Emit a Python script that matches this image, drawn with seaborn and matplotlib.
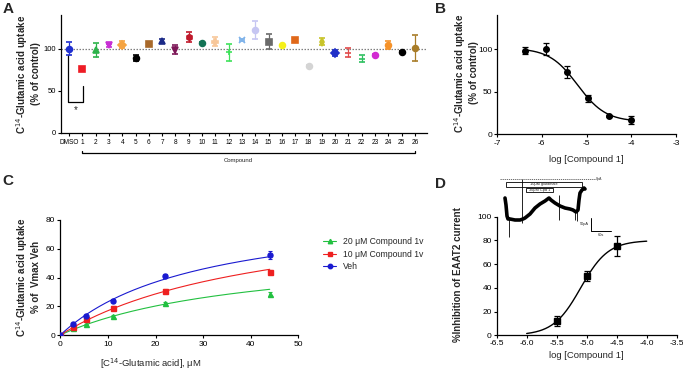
import numpy as np
import pandas as pd
import matplotlib
matplotlib.use("Agg")
import matplotlib.pyplot as plt
import seaborn as sns
from matplotlib.patches import Rectangle
from matplotlib.lines import Line2D

# ---------------- Panel A data ----------------
compounds = ["DMSO"] + [str(i) for i in range(1, 27)]
uptake_mean = [100, 75.5, 98.5, 104, 105, 89, 106, 109.5, 99, 113.5, 107, 108.5, 96,
               110, 122, 108.5, 104, 110, 80, 108.5, 95, 95.5, 88, 93, 104.5, 96, 101]
uptake_err = [8, 2.5, 8.4, 2, 4, 3, 1.5, 2.5, 5.5, 6, 1, 5, 10,
              1, 10.5, 9, 1, 1, 1, 4, 4, 5, 4.2, 1, 5, 1, 15]
a_colors = ["#1f2fd0", "#ee1c25", "#2db34a", "#c72fd4", "#f5a442", "#000000", "#a8692a",
            "#1b2a88", "#7d1757", "#c0192b", "#137355", "#f7c79a", "#3ee25a", "#7fb3ea",
            "#c6c6f2", "#6a6a6a", "#f5f01a", "#e0681a", "#d4d4d4", "#c8c42a", "#2030c8",
            "#e04a4a", "#2ec060", "#d22ad2", "#f5922a", "#000000", "#a87c28"]
a_markers = ["o", "s", "^", "v", "D", "o", "s", "^", "v", "h", "o", "P", "+", "x",
             "o", "s", "o", "s", "o", "d", "D", "_", "_", "o", "o", "o", "o"]

# ---------------- Panel B data ----------------
b_logc = [-6.38, -5.9, -5.43, -4.96, -4.49, -4.0]
b_mean = [98, 100, 73, 42, 21, 16.5]
b_err = [4, 7, 7, 4, 1.5, 5]
b_fit = dict(top=101, bottom=14.5, logic50=-5.2, hill=1.38)

# ---------------- Panel C data ----------------
c_conc = [0, 2.75, 5.5, 11, 22, 44]
c_veh = [0, 7.4, 13.4, 23.9, 41, 55.6]
c_veh_err = [0.5, 0.8, 0.8, 0.8, 1.5, 3]
c_10 = [0, 5.8, 10.9, 19, 30.8, 44]
c_10_err = [0.5, 0.8, 0.8, 1, 1.5, 1.5]
c_20 = [0, 4.6, 7.4, 13.2, 22.5, 28.3]
c_20_err = [0.5, 0.5, 0.6, 0.8, 0.8, 1.5]
c_fit_vmax = {"Veh": 90.8, "10": 91.4, "20": 61.1}
c_fit_km = {"Veh": 29.3, "10": 44.0, "20": 40.6}
c_labels = ["20 \u03bcM Compound 1v", "10 \u03bcM Compound 1v", "Veh"]

# ---------------- Panel D data ----------------
d_logc = [-5.5, -5.0, -4.5]
d_mean = [12, 50, 75]
d_err = [4, 4, 8.5]
d_fit = dict(top=80, bottom=0, logec50=-5.1, hill=1.9)

# inset current trace (time s, current pA)
trace_t = [0, 3, 6, 9, 15, 30, 45, 54, 60, 75, 90, 105, 120, 132, 138, 150, 165,
           180, 195, 204, 213, 219, 222, 225, 231, 237, 240]
trace_i = [-76, -104, -148, -160, -160, -164, -164, -160, -156, -140, -116, -100, -88,
           -76, -84, -96, -108, -116, -120, -124, -132, -124, -84, -56, -44, -36, -40]
spike_t = [12, 51, 162, 210, 216]
spike_top = [-160, 0, -64, -124, -128]
spike_bot = [-232, -176, -164, -164, -168]

# ---------------- style ----------------
sns.set_theme(style="ticks")
plt.rcParams["font.family"] = ["Liberation Sans", "DejaVu Sans"]
plt.rcParams["axes.unicode_minus"] = False
plt.rcParams["axes.linewidth"] = 0.9
plt.rcParams["xtick.major.width"] = 0.8
plt.rcParams["ytick.major.width"] = 0.8
plt.rcParams["xtick.major.size"] = 2.5
plt.rcParams["ytick.major.size"] = 2.5
plt.rcParams["xtick.major.pad"] = 1.5
plt.rcParams["ytick.major.pad"] = 1.0

W, H = 683, 371
fig = plt.figure(figsize=(W / 100, H / 100), dpi=100)


def box(x0, x1, ytop, ybot):
    return [x0 / W, 1 - ybot / H, (x1 - x0) / W, (ybot - ytop) / H]


def style_ax(ax):
    sns.despine(ax=ax)
    ax.spines["left"].set_color("black")
    ax.spines["bottom"].set_color("black")
    ax.tick_params(colors="black", labelcolor="black")


# ======== Panel A ========
axA = fig.add_axes(box(61, 427, 15, 133))
xs = np.arange(len(compounds))
axA.axhline(100, color="#808080", ls=(0, (1.2, 1.2)), lw=0.9, zorder=1)
for i in range(len(compounds)):
    axA.errorbar(xs[i], uptake_mean[i], yerr=uptake_err[i], fmt=a_markers[i],
                 color=a_colors[i], ms=4.2 if a_markers[i] not in ("+", "x", "_") else 5,
                 mew=1.2, elinewidth=0.9, capsize=2, capthick=0.9, zorder=3)
axA.set_xlim(-0.6, 26.9)
axA.set_ylim(0, 140)
axA.set_yticks([0, 50, 100])
axA.set_xticks(xs)
axA.set_xticklabels(compounds, fontsize=4.7)
axA.tick_params(axis="y", labelsize=5.5)
style_ax(axA)
# bracket under compounds
axA.plot([1, 1, 26, 26], [-21.5, -23.8, -23.8, -21.5], color="black", lw=0.9, clip_on=False)
axA.text(12.75, -33, "Compound", fontsize=4.3, ha="center", va="center")
# significance bracket
axA.plot([-0.08, -0.08, 1.05, 1.05], [92.9, 37, 37, 56], color="black", lw=0.9)
axA.text(0.5, 27, "*", fontsize=7, ha="center", va="center")

fig.text(27.5 / W, 1 - 74 / H, "C$^{14}$-Glutamic acid uptake\n(% of control)",
         rotation=90, ha="center", va="center", fontsize=7, fontweight="bold",
         multialignment="center", linespacing=1.1)

# ======== Panel B ========
axB = fig.add_axes(box(497, 676, 15, 134))
xfit = np.linspace(-6.4, -4.0, 200)
yfit = b_fit["bottom"] + (b_fit["top"] - b_fit["bottom"]) / (
    1 + 10 ** ((xfit - b_fit["logic50"]) * b_fit["hill"]))
sns.lineplot(x=xfit, y=yfit, ax=axB, color="black", lw=1.0)
axB.errorbar(b_logc, b_mean, yerr=b_err, fmt="o", color="black", ms=4,
             elinewidth=0.9, capsize=2.2, capthick=0.9)
axB.set_xlim(-7, -3)
axB.set_ylim(0, 140)
axB.set_xticks([-7, -6, -5, -4, -3])
axB.set_yticks([0, 50, 100])
axB.tick_params(labelsize=6)
style_ax(axB)
fig.text(466 / W, 1 - 73 / H, "C$^{14}$-Glutamic acid uptake\n(% of control)",
         rotation=90, ha="center", va="center", fontsize=7, fontweight="bold",
         multialignment="center", linespacing=1.1)
fig.text(586 / W, 1 - 159 / H, "log [Compound 1]", ha="center", va="center", fontsize=6.8)

# ======== Panel C ========
axC = fig.add_axes(box(60.3, 298.3, 220, 335))
xc = np.linspace(0, 44, 200)
series = [("20", c_20, c_20_err, "#22c040", "^"),
          ("10", c_10, c_10_err, "#ee2020", "s"),
          ("Veh", c_veh, c_veh_err, "#1a1ad0", "o")]
handles = []
for (key, vals, errs, col, mk), lab in zip(series, c_labels):
    vm, km = c_fit_vmax[key], c_fit_km[key]
    sns.lineplot(x=xc, y=vm * xc / (km + xc), ax=axC, color=col, lw=0.8)
    axC.errorbar(c_conc, vals, yerr=errs, fmt=mk, color=col, ms=3.6,
                 elinewidth=0.8, capsize=1.5, capthick=0.8, zorder=3)
    handles.append(Line2D([0], [0], color=col, marker=mk, ms=3.2, lw=0.8))
axC.set_xlim(0, 50)
axC.set_ylim(0, 80)
axC.set_xticks([0, 10, 20, 30, 40, 50])
axC.set_yticks([0, 20, 40, 60, 80])
axC.tick_params(labelsize=6)
style_ax(axC)
fig.text(27.5 / W, 1 - 277 / H, "C$^{14}$-Glutamic acid uptake\n% of  Vmax Veh",
         rotation=90, ha="center", va="center", fontsize=7, fontweight="bold",
         multialignment="center", linespacing=1.1)
fig.text(150.5 / W, 1 - 364 / H, "[C$^{14}$-Glutamic acid], \u03bcM", ha="center",
         va="center", fontsize=6.8)
fig.legend(handles, c_labels, loc="upper left", bbox_to_anchor=(319 / W, 1 - 233 / H),
           frameon=False, fontsize=6.2, borderpad=0, handlelength=1.5,
           handletextpad=0.8, labelspacing=0.4)

# ======== Panel D ========
axD = fig.add_axes(box(496.7, 676.7, 216.7, 335.3))
xd = np.linspace(-6.0, -4.0, 200)
yd = d_fit["bottom"] + (d_fit["top"] - d_fit["bottom"]) / (
    1 + 10 ** ((d_fit["logec50"] - xd) * d_fit["hill"]))
sns.lineplot(x=xd, y=yd, ax=axD, color="black", lw=1.0)
axD.errorbar(d_logc, d_mean, yerr=d_err, fmt="s", color="black", ms=3.8,
             elinewidth=0.9, capsize=2.2, capthick=0.9)
axD.set_xlim(-6.5, -3.5)
axD.set_ylim(0, 100)
axD.set_xticks(np.arange(-6.5, -3.49, 0.5))
axD.set_xticklabels([f"{v:.1f}" for v in np.arange(-6.5, -3.49, 0.5)])
axD.set_yticks([0, 20, 40, 60, 80, 100])
axD.tick_params(labelsize=6)
axD.tick_params(axis="x", pad=1.0)
style_ax(axD)
fig.text(458 / W, 1 - 275 / H, "%Inhibition of EAAT2 current", rotation=90,
         ha="center", va="center", fontsize=7, fontweight="bold")
fig.text(586.5 / W, 1 - 355 / H, "log [Compound 1]", ha="center", va="center", fontsize=6.8)

# inset trace
axI = fig.add_axes(box(498, 615, 176, 240))
axI.patch.set_alpha(0)
axI.set_xlim(-21, 330)
axI.set_ylim(-244, 12)
axI.axis("off")
sns.lineplot(x=trace_t, y=trace_i, ax=axI, color="black", lw=2.6, sort=False)
axI.vlines(spike_t, spike_bot, spike_top, color="black", lw=0.6)
axI.plot([-15, 270], [0, 0], color="#555555", ls=(0, (1.5, 1)), lw=0.6)
axI.text(273, 0, "0pA", fontsize=2.6, va="center", ha="left", color="#333333")
axI.add_patch(Rectangle((2, -31), 230, 20, fill=False, lw=0.6, ec="black"))
axI.text(117, -21, "10\u03bcM glutamate", fontsize=2.8, ha="center", va="center")
axI.add_patch(Rectangle((63, -51), 82, 16, fill=False, lw=0.6, ec="black"))
axI.text(104, -43, "30\u03bcM Cpd 1", fontsize=2.8, ha="center", va="center")
axI.plot([258, 258, 318], [-157, -207, -207], color="black", lw=0.7)
axI.text(253, -182, "50pA", fontsize=2.8, ha="right", va="center")
axI.text(288, -218, "60s", fontsize=2.8, ha="center", va="top")

# panel letters
for lab, (x, y) in {"A": (8, 9), "B": (440, 9), "C": (8, 181), "D": (440, 184)}.items():
    fig.text(x / W, 1 - y / H, lab, fontsize=11, fontweight="bold", ha="center", va="center")

fig.savefig("out.png", dpi=100)
